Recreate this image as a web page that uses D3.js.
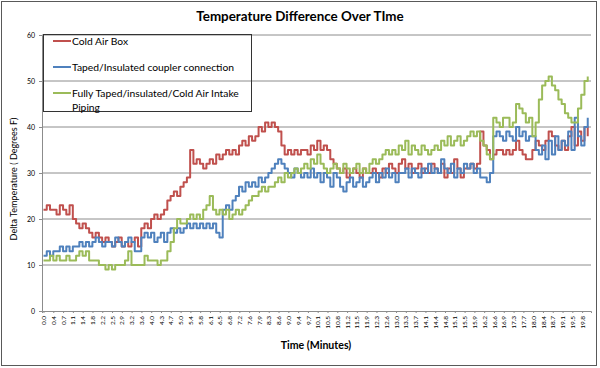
<!DOCTYPE html>
<meta charset="utf-8">
<head>
	<title>Temperature Difference Over Time</title>
</head>
<style>
	body { margin: 0; background: #fff; }
	text { font-family: Lato, "Open Sans", sans-serif; fill: #000; }
</style>
<body>
<svg width="600" height="368"></svg>
<script src="https://cdnjs.cloudflare.com/ajax/libs/d3/7.8.5/d3.min.js"></script>
<script>

// one reading every 0.12 minutes
var SAMPLE_MIN = 0.12;
// category labels shown on the x axis, one every 0.3606 minutes
var LABEL_STEP = 0.3606;
var timeLabels = ["0.0","0.4","0.7","1.1","1.4","1.8","2.2","2.5","2.9","3.2","3.6","4.0","4.3","4.7",
	"5.0","5.4","5.8","6.1","6.5","6.8","7.2","7.6","7.9","8.3","8.6","9.0","9.4","9.7","10.1","10.5",
	"10.8","11.2","11.5","11.9","12.3","12.6","13.0","13.3","13.7","14.1","14.4","14.8","15.1","15.5",
	"15.9","16.2","16.6","16.9","17.3","17.7","18.0","18.4","18.7","19.1","19.5","19.8"];
var yTicks = [0, 10, 20, 30, 40, 50, 60];

var seriesNames = ["Cold Air Box", "Taped/Insulated coupler connection", "Fully Taped/insulated/Cold Air Intake Piping"];

var coldAirBox = [
	22,23,22,22,21,23,22,21,23,20, 19,18,19,18,17,16,17,16,15,16,
	15,14,15,16,14,15,14,15,16,14, 18,19,18,20,21,20,21,22,24,25,
	26,25,27,28,29,35,32,33,32,31, 32,33,32,34,33,34,35,34,35,34,
	36,37,36,38,37,38,40,39,41,40, 41,40,39,36,34,35,34,35,34,35,
	35,34,36,35,37,35,36,35,33,32, 31,30,31,29,30,31,30,29,31,30,
	30,31,30,29,31,30,32,31,30,32, 33,31,32,30,31,32,30,31,30,32,
	31,30,32,29,31,30,33,31,29,31, 31,32,31,32,39,36,35,33,34,35,
	35,34,35,34,35,37,35,34,33,33, 35,37,36,35,37,39,38,36,35,37,
	35,38,40,36,39,37,40,38];

var tapedCoupler = [
	12,13,12,13,13,14,13,14,13,14, 14,15,14,15,14,15,16,15,14,15,
	15,14,16,15,14,15,16,15,13,13, 16,17,16,17,15,16,17,15,17,18,
	17,18,17,18,19,18,19,18,19,18, 19,18,19,17,16,22,23,22,24,25,
	27,26,28,27,28,27,29,28,29,30, 31,32,33,32,31,30,29,31,30,29,
	30,29,31,29,30,28,30,29,27,30, 29,27,26,28,29,27,28,29,27,28,
	29,30,28,30,29,31,29,30,28,30, 30,31,29,31,30,29,31,30,32,30,
	31,30,33,31,30,32,29,31,30,32, 31,32,30,31,29,29,28,30,38,39,
	38,37,39,38,37,40,38,39,37,38, 38,35,34,36,33,37,34,38,35,37,
	36,39,35,42,38,36,40,42];

var fullyTaped = [
	11,11,12,11,12,11,11,12,11,11, 12,13,12,13,11,11,11,10,10,9,
	10,9,10,10,10,11,13,10,10,10, 10,12,11,11,11,10,11,11,13,15,
	18,20,19,19,20,21,20,21,20,22, 23,25,22,21,22,21,22,20,21,22,
	21,22,23,24,25,25,26,27,26,27, 27,28,29,28,30,29,30,31,30,31,
	32,31,33,32,34,32,31,30,31,32, 31,30,32,31,30,31,32,30,31,30,
	32,33,32,33,34,35,34,35,34,36, 35,37,34,36,35,34,36,35,34,35,
	36,35,37,36,38,36,37,38,36,37, 38,39,38,39,37,36,34,33,42,41,
	40,42,42,40,41,45,44,43,41,42, 38,41,46,49,50,51,49,48,46,45,
	43,42,41,41,44,47,50,51];

var seriesColors = ["#C0504D", "#4F81BD", "#9BBB59"];
var allSeries = [coldAirBox, tapedCoupler, fullyTaped];

var svg = d3.select("svg"),
	plot = {left: 42, right: 591, top: 35, bottom: 311};

// chart frame
svg.append("rect")
	.attr("x", 1.5).attr("y", 1.5)
	.attr("width", 595).attr("height", 364)
	.attr("fill", "#fff")
	.attr("stroke", "#595959");

var x = d3.scaleLinear()
	.domain([-0.055, 20.16])
	.range([plot.left, plot.right]);

var y = d3.scaleLinear()
	.domain([0, 60])
	.range([plot.bottom, plot.top]);

// horizontal gridlines
svg.append("g")
	.selectAll("line")
	.data(yTicks.filter(function(d) { return d > 0; }))
	.enter().append("line")
	.attr("x1", plot.left).attr("x2", plot.right)
	.attr("y1", function(d) { return y(d); })
	.attr("y2", function(d) { return y(d); })
	.attr("stroke", "#8c8c8c")
	.attr("stroke-width", 1);

// y axis
var yAxis = svg.append("g")
	.attr("transform", "translate(" + plot.left + ",0)")
	.call(d3.axisLeft(y).tickValues(yTicks).tickSize(3).tickPadding(4));
yAxis.select(".domain").attr("stroke", "#8c8c8c");
yAxis.selectAll(".tick line").attr("stroke", "#8c8c8c");
yAxis.selectAll("text").style("font-size", "7px").attr("font-family", "Lato, sans-serif");

// x axis
var xTickPos = timeLabels.map(function(d, i) { return i * LABEL_STEP; });
var xAxis = svg.append("g")
	.attr("transform", "translate(0," + plot.bottom + ")")
	.call(d3.axisBottom(x).tickValues(xTickPos).tickSize(2)
		.tickFormat(function(d, i) { return timeLabels[i]; }));
xAxis.select(".domain").attr("stroke", "#8c8c8c");
xAxis.selectAll(".tick line").attr("stroke", "#8c8c8c");
xAxis.selectAll("text")
	.style("font-size", "6.5px")
	.attr("text-anchor", "end")
	.attr("transform", "rotate(-90)")
	.attr("x", -5)
	.attr("y", 0)
	.attr("dy", "0.32em");

// series, drawn as steps since the sensor reads in whole degrees
var line = d3.line()
	.curve(d3.curveStepAfter)
	.x(function(d, i) { return x(i * SAMPLE_MIN); })
	.y(function(d) { return y(d); });

allSeries.forEach(function(s, k) {
	svg.append("path")
		.datum(s)
		.attr("fill", "none")
		.attr("stroke", seriesColors[k])
		.attr("stroke-width", 2)
		.attr("stroke-linejoin", "round")
		.attr("d", line);
});

// legend
var legend = svg.append("g");
legend.append("rect")
	.attr("x", 43.5).attr("y", 34.5)
	.attr("width", 208).attr("height", 77)
	.attr("fill", "none")
	.attr("stroke", "#333");

var legendY = [41, 67, 93];
seriesNames.forEach(function(name, k) {
	legend.append("line")
		.attr("x1", 53).attr("x2", 71)
		.attr("y1", legendY[k]).attr("y2", legendY[k])
		.attr("stroke", seriesColors[k])
		.attr("stroke-width", 2);
});
legend.append("text").attr("x", 72).attr("y", legendY[0]).attr("dy", "0.35em")
	.style("font-size", "10.3px").text(seriesNames[0]);
legend.append("text").attr("x", 72).attr("y", legendY[1]).attr("dy", "0.35em")
	.style("font-size", "10.3px").text(seriesNames[1]);
legend.append("text").attr("x", 72).attr("y", legendY[2]).attr("dy", "0.35em")
	.style("font-size", "10.3px").text("Fully Taped/insulated/Cold Air Intake");
legend.append("text").attr("x", 72).attr("y", legendY[2] + 14).attr("dy", "0.35em")
	.style("font-size", "10.3px").text("Piping");

// titles
svg.append("text")
	.attr("x", 300).attr("y", 21)
	.attr("text-anchor", "middle")
	.style("font-size", "13.4px").style("font-weight", "bold")
	.text("Temperature Difference Over TIme");

svg.append("text")
	.attr("x", 316).attr("y", 349)
	.attr("text-anchor", "middle")
	.style("font-size", "10.6px").style("font-weight", "bold")
	.text("Time (Minutes)");

svg.append("text")
	.attr("transform", "translate(17,179) rotate(-90)")
	.attr("text-anchor", "middle")
	.style("font-size", "9px")
	.text("Delta Temperature ( Degrees F)");

</script>
</body>
